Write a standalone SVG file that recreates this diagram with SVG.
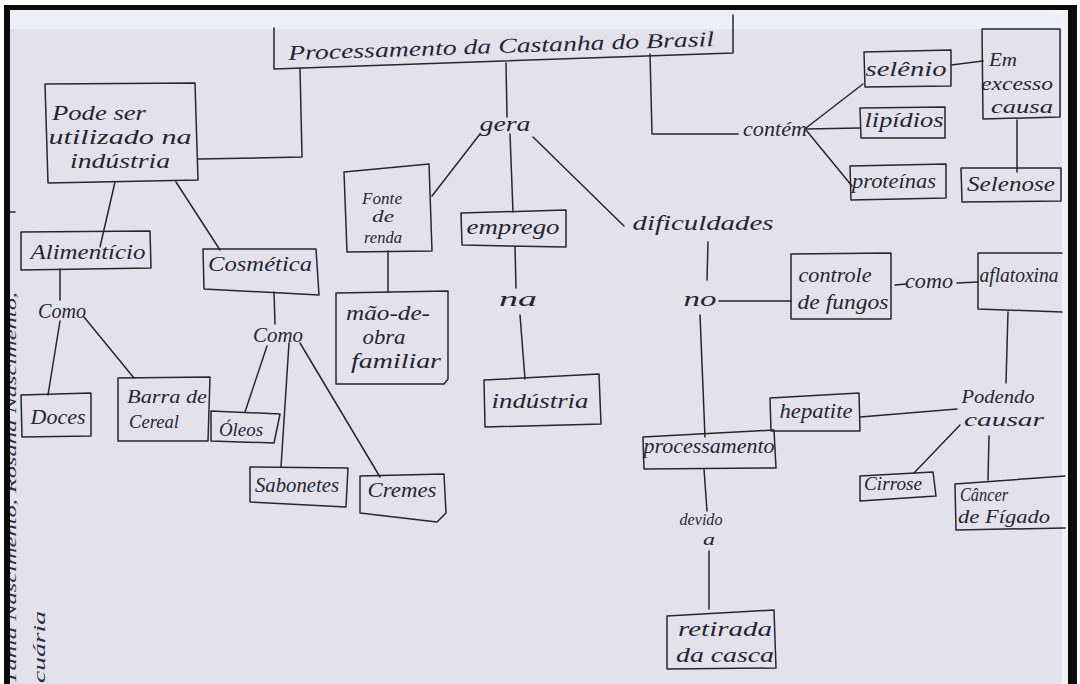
<svg xmlns="http://www.w3.org/2000/svg" width="1080" height="684" viewBox="0 0 1080 684">
  <style>
    .ink { fill: none; stroke: #262633; stroke-width: 1.5; stroke-linecap: round; stroke-linejoin: round; }
    .t { font-family: "Liberation Serif", "DejaVu Serif", serif; font-style: italic; font-size: 21px; fill: #262633; text-anchor: middle; }
    .s { font-size: 17px; }
    .n { font-size: 18px; }
    .m { font-family: "Liberation Serif", "DejaVu Serif", serif; font-style: italic; fill: #2c2c3a; }
  </style>

  <!-- sheet of paper on the scan bed -->
  <g id="sheet">
    <rect x="0" y="0" width="1080" height="684" fill="#ffffff"/>
    <rect x="10" y="10" width="1052" height="674" fill="#e3e2ec"/>
    <rect x="10" y="10" width="1052" height="19" fill="#eceff5"/>
    <rect x="1062" y="10" width="6" height="674" fill="#f3f3f6"/>
    <polygon points="1053,10 1062,10 1062,19" fill="#f3f3f6"/>
  </g>

  <!-- margin notes running up the left edge, mostly under the frame -->
  <g id="margin-notes">
    <text class="m" font-size="14" transform="translate(16,684) rotate(-90)" textLength="392" lengthAdjust="spacingAndGlyphs">Tânia Nascimento, Rosana Nascimento,</text>
    <text class="m" font-size="17" transform="translate(45,683) rotate(-90)" textLength="72" lengthAdjust="spacingAndGlyphs">cuária</text>
    <path class="ink" d="M10 212 L15 212"/>
  </g>

  <!-- connectors -->
  <g id="connectors" class="ink">
    <path d="M300 68 L302 157 L198 159"/>
    <path d="M115 182 L100 247"/>
    <path d="M176 182 L220 250"/>
    <path d="M60 269 L60 300"/>
    <path d="M60 321 L48 395"/>
    <path d="M84 317 L134 378"/>
    <path d="M274 292 L275 324"/>
    <path d="M267 346 L245 412"/>
    <path d="M289 343 L281 467"/>
    <path d="M300 343 L380 477"/>
    <path d="M506 63 L507 117"/>
    <path d="M480 134 L432 196"/>
    <path d="M510 134 L513 212"/>
    <path d="M533 137 L624 226"/>
    <path d="M388 251 L388 292"/>
    <path d="M515 247 L516 288"/>
    <path d="M520 315 L525 379"/>
    <path d="M650 54 L652 134 L738 134"/>
    <path d="M806 128 L863 84"/>
    <path d="M806 129 L860 128"/>
    <path d="M806 130 L852 186"/>
    <path d="M951 65 L983 61"/>
    <path d="M1017 120 L1017 172"/>
    <path d="M708 242 L707 280"/>
    <path d="M719 301 L791 301"/>
    <path d="M700 315 L705 437"/>
    <path d="M895 285 L906 284"/>
    <path d="M957 283 L978 282"/>
    <path d="M1008 312 L1006 383"/>
    <path d="M957 409 L860 417"/>
    <path d="M960 425 L914 473"/>
    <path d="M989 436 L988 480"/>
    <path d="M704 469 L707 511"/>
    <path d="M709 551 L709 609"/>
  </g>

  <!-- concept boxes and linking words -->
  <g id="titulo">
    <path class="ink" d="M274 28 L274 69 L733 53 L733 15"/>
    <text class="t" font-size="25" x="501" y="53" textLength="426" lengthAdjust="spacingAndGlyphs" transform="rotate(-1.9 501 45)">Processamento da Castanha do Brasil</text>
  </g>

  <g id="industria-uso">
    <path class="ink" d="M45 84 L195 83 L198 180 L48 183 Z"/>
    <text class="t" x="99" y="120" textLength="94" lengthAdjust="spacingAndGlyphs">Pode ser</text>
    <text class="t" x="120" y="144" textLength="143" lengthAdjust="spacingAndGlyphs">utilizado na</text>
    <text class="t" x="120" y="168" textLength="100" lengthAdjust="spacingAndGlyphs">indústria</text>
  </g>

  <g id="alimenticio">
    <path class="ink" d="M21 232 L150 231 L151 268 L21 270 Z"/>
    <text class="t" x="88" y="259" textLength="115" lengthAdjust="spacingAndGlyphs">Alimentício</text>
  </g>

  <g id="cosmetica">
    <path class="ink" d="M203 249 L316 249 L319 295 L204 289 Z"/>
    <text class="t" x="260" y="271" textLength="104" lengthAdjust="spacingAndGlyphs">Cosmética</text>
  </g>

  <g id="como-alimenticio">
    <text class="t" x="62" y="318" textLength="48" lengthAdjust="spacingAndGlyphs">Como</text>
  </g>

  <g id="doces">
    <path class="ink" d="M21 395 L91 393 L91 436 L22 437 Z"/>
    <text class="t" x="58" y="424" textLength="55" lengthAdjust="spacingAndGlyphs">Doces</text>
  </g>

  <g id="barra-cereal">
    <path class="ink" d="M118 378 L210 377 L208 441 L118 441 Z"/>
    <text class="t n" x="167" y="403" textLength="80" lengthAdjust="spacingAndGlyphs">Barra de</text>
    <text class="t n" x="154" y="428" textLength="50" lengthAdjust="spacingAndGlyphs">Cereal</text>
  </g>

  <g id="como-cosmetica">
    <text class="t" x="278" y="342" textLength="50" lengthAdjust="spacingAndGlyphs">Como</text>
  </g>

  <g id="oleos">
    <path class="ink" d="M211 411 L280 414 L274 443 L211 441 Z"/>
    <text class="t n" x="241" y="436" textLength="44" lengthAdjust="spacingAndGlyphs">Óleos</text>
  </g>

  <g id="sabonetes">
    <path class="ink" d="M250 467 L348 468 L346 507 L250 502 Z"/>
    <text class="t" x="297" y="492" textLength="84" lengthAdjust="spacingAndGlyphs">Sabonetes</text>
  </g>

  <g id="cremes">
    <path class="ink" d="M360 476 L444 474 L446 513 L437 522 L360 513 Z"/>
    <text class="t" x="402" y="497" textLength="69" lengthAdjust="spacingAndGlyphs">Cremes</text>
  </g>

  <g id="gera">
    <text class="t" x="505" y="131" textLength="51" lengthAdjust="spacingAndGlyphs">gera</text>
  </g>

  <g id="fonte-renda">
    <path class="ink" d="M344 172 L429 164 L432 251 L347 252 Z"/>
    <text class="t s" x="382" y="204" textLength="40" lengthAdjust="spacingAndGlyphs">Fonte</text>
    <text class="t s" x="383" y="222" textLength="22" lengthAdjust="spacingAndGlyphs">de</text>
    <text class="t s" x="383" y="243" textLength="38" lengthAdjust="spacingAndGlyphs">renda</text>
  </g>

  <g id="emprego">
    <path class="ink" d="M461 213 L566 210 L566 247 L462 245 Z"/>
    <text class="t" x="513" y="234" textLength="93" lengthAdjust="spacingAndGlyphs">emprego</text>
  </g>

  <g id="mao-de-obra">
    <path class="ink" d="M336 293 L448 291 L448 379 L444 384 L336 384 Z"/>
    <text class="t" x="388" y="320" textLength="84" lengthAdjust="spacingAndGlyphs">mão-de-</text>
    <text class="t" x="384" y="344" textLength="43" lengthAdjust="spacingAndGlyphs">obra</text>
    <text class="t" x="396" y="368" textLength="90" lengthAdjust="spacingAndGlyphs">familiar</text>
  </g>

  <g id="na">
    <text class="t" x="518" y="306" textLength="38" lengthAdjust="spacingAndGlyphs">na</text>
  </g>

  <g id="industria">
    <path class="ink" d="M484 380 L599 374 L601 424 L485 427 Z"/>
    <text class="t" x="540" y="408" textLength="97" lengthAdjust="spacingAndGlyphs">indústria</text>
  </g>

  <g id="dificuldades">
    <text class="t" x="703" y="230" textLength="141" lengthAdjust="spacingAndGlyphs">dificuldades</text>
  </g>

  <g id="no">
    <text class="t" x="700" y="306" textLength="33" lengthAdjust="spacingAndGlyphs">no</text>
  </g>

  <g id="controle-fungos">
    <path class="ink" d="M791 254 L891 253 L891 319 L791 319 Z"/>
    <text class="t" x="835" y="282" textLength="73" lengthAdjust="spacingAndGlyphs">controle</text>
    <text class="t" x="843" y="309" textLength="91" lengthAdjust="spacingAndGlyphs">de fungos</text>
  </g>

  <g id="como-fungos">
    <text class="t" x="929" y="288" textLength="48" lengthAdjust="spacingAndGlyphs">como</text>
  </g>

  <g id="aflatoxina">
    <path class="ink" d="M1062 253 L978 253 L978 309 L1062 312"/>
    <text class="t" x="1019" y="282" textLength="79" lengthAdjust="spacingAndGlyphs">aflatoxina</text>
  </g>

  <g id="podendo-causar">
    <text class="t n" x="998" y="403" textLength="73" lengthAdjust="spacingAndGlyphs">Podendo</text>
    <text class="t n" x="1004" y="426" textLength="80" lengthAdjust="spacingAndGlyphs">causar</text>
  </g>

  <g id="hepatite">
    <path class="ink" d="M770 398 L859 393 L860 431 L771 431 Z"/>
    <text class="t" x="816" y="418" textLength="73" lengthAdjust="spacingAndGlyphs">hepatite</text>
  </g>

  <g id="processamento">
    <path class="ink" d="M643 437 L774 430 L776 468 L644 469 Z"/>
    <text class="t" x="709" y="453" textLength="131" lengthAdjust="spacingAndGlyphs">processamento</text>
  </g>

  <g id="cirrose">
    <path class="ink" d="M860 476 L933 472 L936 496 L860 501 Z"/>
    <text class="t n" x="893" y="490" textLength="58" lengthAdjust="spacingAndGlyphs">Cirrose</text>
  </g>

  <g id="cancer-figado">
    <path class="ink" d="M1065 476 L955 484 L956 530 L1065 528"/>
    <text class="t n" x="984" y="501" textLength="48" lengthAdjust="spacingAndGlyphs">Câncer</text>
    <text class="t n" x="1004" y="523" textLength="92" lengthAdjust="spacingAndGlyphs">de Fígado</text>
  </g>

  <g id="devido-a">
    <text class="t s" x="701" y="525" textLength="43" lengthAdjust="spacingAndGlyphs">devido</text>
    <text class="t s" x="709" y="545" textLength="12" lengthAdjust="spacingAndGlyphs">a</text>
  </g>

  <g id="retirada-casca">
    <path class="ink" d="M667 616 L774 610 L776 668 L667 669 Z"/>
    <text class="t" x="725" y="636" textLength="94" lengthAdjust="spacingAndGlyphs">retirada</text>
    <text class="t" x="725" y="662" textLength="98" lengthAdjust="spacingAndGlyphs">da casca</text>
  </g>

  <g id="contem">
    <text class="t" x="775" y="136" textLength="64" lengthAdjust="spacingAndGlyphs">contém</text>
  </g>

  <g id="selenio">
    <path class="ink" d="M864 52 L951 50 L951 86 L865 87 Z"/>
    <text class="t" x="906" y="76" textLength="81" lengthAdjust="spacingAndGlyphs">selênio</text>
  </g>

  <g id="lipidios">
    <path class="ink" d="M860 108 L945 107 L945 138 L861 138 Z"/>
    <text class="t" x="904" y="127" textLength="79" lengthAdjust="spacingAndGlyphs">lipídios</text>
  </g>

  <g id="proteinas">
    <path class="ink" d="M850 166 L946 164 L946 198 L851 200 Z"/>
    <text class="t" x="894" y="188" textLength="84" lengthAdjust="spacingAndGlyphs">proteínas</text>
  </g>

  <g id="excesso-causa">
    <path class="ink" d="M982 29 L1060 29 L1060 117 L983 119 Z"/>
    <text class="t n" x="1003" y="66" textLength="28" lengthAdjust="spacingAndGlyphs">Em</text>
    <text class="t n" x="1017" y="90" textLength="72" lengthAdjust="spacingAndGlyphs">excesso</text>
    <text class="t n" x="1022" y="113" textLength="62" lengthAdjust="spacingAndGlyphs">causa</text>
  </g>

  <g id="selenose">
    <path class="ink" d="M961 168 L1061 168 L1061 201 L962 202 Z"/>
    <text class="t" x="1011" y="191" textLength="88" lengthAdjust="spacingAndGlyphs">Selenose</text>
  </g>

  <!-- scanner frame -->
  <g id="frame" fill="#0c0c0c">
    <rect x="4" y="5" width="6" height="679"/>
    <rect x="4" y="5" width="1073" height="5"/>
    <rect x="1068" y="5" width="9" height="679"/>
  </g>
</svg>
